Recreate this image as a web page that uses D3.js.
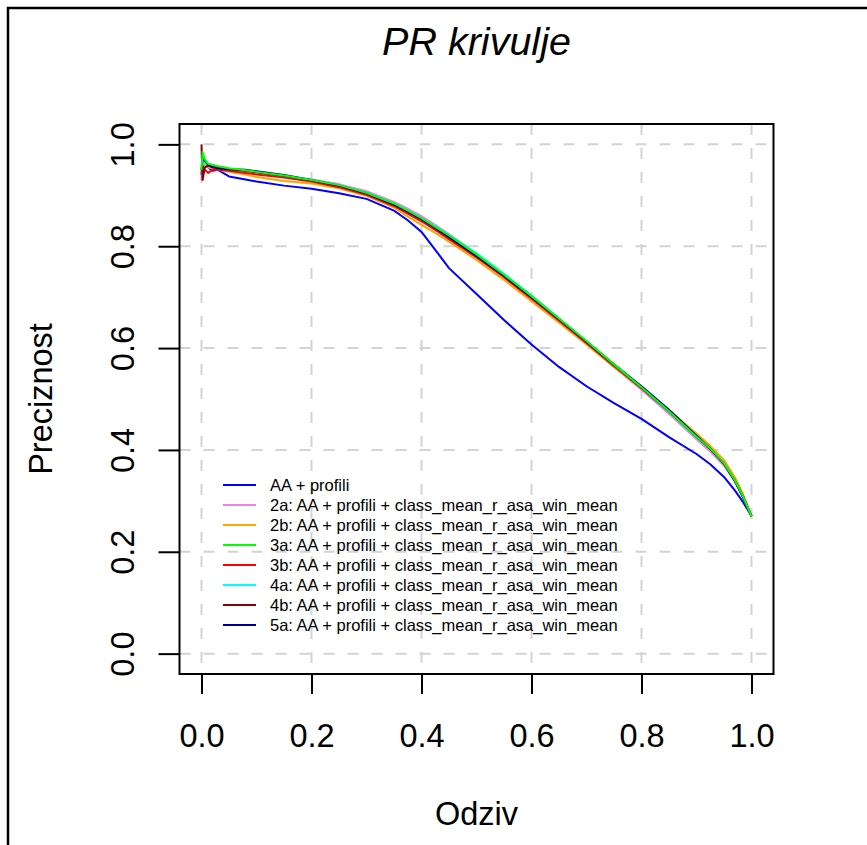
<!DOCTYPE html>
<html><head><meta charset="utf-8">
<script src="https://cdn.jsdelivr.net/npm/d3@7"></script>
<style>body{margin:0;background:#fff}svg{display:block}text{font-family:"Liberation Sans",Arial,Helvetica,sans-serif}</style>
</head><body>
<script>
const recall = [0, 0.002, 0.006, 0.012, 0.02, 0.03, 0.05, 0.08, 0.1, 0.15, 0.2, 0.25, 0.3, 0.35, 0.375, 0.4, 0.425, 0.45, 0.5, 0.55, 0.6, 0.65, 0.7, 0.75, 0.8, 0.85, 0.9, 0.925, 0.95, 0.97, 0.985, 1.0];
const seriesNames = ["AA + profili",
  "2a: AA + profili + class_mean_r_asa_win_mean",
  "2b: AA + profili + class_mean_r_asa_win_mean",
  "3a: AA + profili + class_mean_r_asa_win_mean",
  "3b: AA + profili + class_mean_r_asa_win_mean",
  "4a: AA + profili + class_mean_r_asa_win_mean",
  "4b: AA + profili + class_mean_r_asa_win_mean",
  "5a: AA + profili + class_mean_r_asa_win_mean"];
const seriesColors = ["#0000FF","#EE82EE","#FFA500","#00FF00","#FF0000","#00FFFF","#8B0000","#00008B"];
const pBlue = [0.94, 0.975, 0.968, 0.955, 0.948, 0.95, 0.937, 0.931, 0.927, 0.919, 0.913, 0.904, 0.893, 0.870, 0.851, 0.828, 0.793, 0.757, 0.706, 0.655, 0.607, 0.563, 0.525, 0.492, 0.461, 0.425, 0.392, 0.372, 0.347, 0.320, 0.297, 0.27];
const p2a   = [0.93, 0.955, 0.96, 0.955, 0.955, 0.952, 0.95, 0.947, 0.945, 0.938, 0.931, 0.922, 0.908, 0.887, 0.874, 0.859, 0.842, 0.824, 0.785, 0.744, 0.700, 0.654, 0.609, 0.563, 0.518, 0.471, 0.421, 0.397, 0.369, 0.337, 0.306, 0.27];
const p2b   = [0.95, 0.955, 0.96, 0.955, 0.953, 0.95, 0.946, 0.941, 0.936, 0.928, 0.923, 0.914, 0.899, 0.876, 0.858, 0.842, 0.826, 0.809, 0.773, 0.734, 0.692, 0.650, 0.607, 0.563, 0.521, 0.478, 0.432, 0.408, 0.380, 0.346, 0.312, 0.27];
const p3a   = [0.95, 0.985, 0.97, 0.962, 0.96, 0.957, 0.953, 0.949, 0.946, 0.939, 0.930, 0.920, 0.905, 0.884, 0.870, 0.855, 0.838, 0.821, 0.784, 0.744, 0.702, 0.658, 0.614, 0.568, 0.523, 0.476, 0.426, 0.403, 0.374, 0.340, 0.308, 0.27];
const p3b   = [0.96, 0.958, 0.95, 0.944, 0.95, 0.95, 0.948, 0.944, 0.941, 0.935, 0.927, 0.916, 0.901, 0.879, 0.864, 0.849, 0.832, 0.814, 0.778, 0.739, 0.697, 0.654, 0.610, 0.565, 0.521, 0.475, 0.426, 0.402, 0.373, 0.339, 0.307, 0.27];
const p4a   = [0.96, 0.965, 0.962, 0.958, 0.956, 0.954, 0.951, 0.948, 0.945, 0.938, 0.930, 0.920, 0.905, 0.884, 0.870, 0.855, 0.839, 0.822, 0.786, 0.746, 0.703, 0.658, 0.613, 0.567, 0.522, 0.475, 0.425, 0.402, 0.373, 0.339, 0.307, 0.27];
const p4b   = [1.0, 0.93, 0.955, 0.958, 0.956, 0.954, 0.951, 0.948, 0.945, 0.938, 0.929, 0.919, 0.904, 0.882, 0.868, 0.853, 0.836, 0.819, 0.782, 0.742, 0.700, 0.656, 0.612, 0.567, 0.522, 0.476, 0.426, 0.402, 0.373, 0.339, 0.307, 0.27];
const p5a   = [0.95, 0.972, 0.968, 0.96, 0.955, 0.953, 0.951, 0.950, 0.947, 0.940, 0.930, 0.919, 0.904, 0.882, 0.868, 0.853, 0.836, 0.818, 0.781, 0.742, 0.700, 0.657, 0.613, 0.568, 0.525, 0.479, 0.428, 0.403, 0.373, 0.339, 0.307, 0.27];
const tickValues = [0, 0.2, 0.4, 0.6, 0.8, 1.0];
const tickLabels = ["0.0","0.2","0.4","0.6","0.8","1.0"];
const titleText = "PR krivulje", xLabel = "Odziv", yLabel = "Preciznost";

const precisions = [pBlue, p2a, p2b, p3a, p3b, p4a, p4b, p5a];
const drawOrder = [0, 1, 2, 4, 5, 6, 7, 3];
const W = 867, H = 845;
const L = 179.5, R = 773.5, T = 124, B = 674;
const FS = 32.5;
const x = d3.scaleLinear().domain([-0.04, 1.04]).range([L, R]);
const y = d3.scaleLinear().domain([-0.04, 1.04]).range([B, T]);

const svg = d3.select("body").append("svg").attr("width", W).attr("height", H);
svg.append("rect").attr("x", 8).attr("y", 8).attr("width", 1000).attr("height", 1000)
  .attr("fill", "none").attr("stroke", "#000").attr("stroke-width", 2.5);

svg.append("clipPath").attr("id", "pc").append("rect")
  .attr("x", L).attr("y", T).attr("width", R - L).attr("height", B - T);
const g = svg.append("g").attr("clip-path", "url(#pc)");

// grid
g.selectAll(".vg").data(tickValues).enter().append("line")
  .attr("x1", d => x(d)).attr("x2", d => x(d)).attr("y1", T).attr("y2", B)
  .attr("stroke", "#D3D3D3").attr("stroke-width", 2).attr("stroke-dasharray", "11,13");
g.selectAll(".hg").data(tickValues).enter().append("line")
  .attr("y1", d => y(d)).attr("y2", d => y(d)).attr("x1", L).attr("x2", R)
  .attr("stroke", "#D3D3D3").attr("stroke-width", 2).attr("stroke-dasharray", "11,13");

// curves
const line = d3.line().x((d, i) => x(recall[i])).y(d => y(d));
drawOrder.forEach(k => {
  g.append("path").attr("d", line(precisions[k])).attr("fill", "none")
    .attr("stroke", seriesColors[k]).attr("stroke-width", 2).attr("stroke-linejoin", "round");
});

// box
svg.append("rect").attr("x", L).attr("y", T).attr("width", R - L).attr("height", B - T)
  .attr("fill", "none").attr("stroke", "#000").attr("stroke-width", 2);

// x axis
const xa = svg.append("g").attr("transform", `translate(0,${B})`)
  .call(d3.axisBottom(x).tickValues(tickValues).tickFormat((d, i) => tickLabels[i]).tickSize(20));
xa.select(".domain").remove();
xa.selectAll("line").attr("stroke-width", 2);
xa.selectAll("text").attr("font-size", FS).attr("fill", "#000").attr("y", 73).attr("dy", null)
  .attr("font-family", '"Liberation Sans",Arial,sans-serif');

// y axis
const ya = svg.append("g").attr("transform", `translate(${L},0)`)
  .call(d3.axisLeft(y).tickValues(tickValues).tickFormat((d, i) => tickLabels[i]).tickSize(21));
ya.select(".domain").remove();
ya.selectAll("line").attr("stroke-width", 2);
ya.selectAll("text").remove();
ya.selectAll(".tick").append("text")
  .attr("transform", "translate(-46,0) rotate(-90)")
  .attr("text-anchor", "middle").attr("font-size", FS).attr("fill", "#000")
  .text((d, i) => tickLabels[i]);

// titles
svg.append("text").attr("x", (L + R) / 2).attr("y", 55).attr("text-anchor", "middle")
  .attr("font-size", 39.5).attr("font-style", "italic").text(titleText);
svg.append("text").attr("x", (L + R) / 2).attr("y", 825).attr("text-anchor", "middle")
  .attr("font-size", FS).text(xLabel);
svg.append("text").attr("transform", `translate(52,${(T + B) / 2}) rotate(-90)`)
  .attr("text-anchor", "middle").attr("font-size", FS).text(yLabel);

// legend
const lg = svg.append("g");
seriesNames.forEach((n, i) => {
  const yy = 485 + i * 20;
  lg.append("line").attr("x1", 223).attr("x2", 256).attr("y1", yy).attr("y2", yy)
    .attr("stroke", seriesColors[i]).attr("stroke-width", 2);
  lg.append("text").attr("x", 270).attr("y", yy).attr("dy", "0.36em")
    .attr("font-size", 16.5).attr("fill", "#000").text(n);
});
</script>
</body></html>
